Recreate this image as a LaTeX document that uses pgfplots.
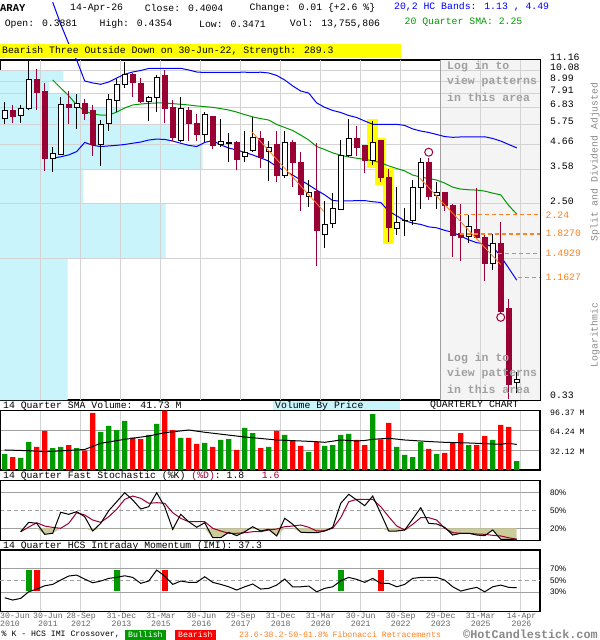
\documentclass[border=0pt]{standalone}
\usepackage{pgfplots}
\pgfplotsset{compat=1.18}
\usepackage{pgfplotstable}
\usepgfplotslibrary{fillbetween}
\usepackage{fontspec}
\setmainfont{Liberation Mono}
\newfontfamily\lsans{Liberation Sans}

\definecolor{vbp}{RGB}{201,244,251}
\definecolor{crim}{RGB}{153,0,51}
\definecolor{gridc}{RGB}{211,211,211}
\definecolor{hgrid}{RGB}{160,160,160}
\definecolor{logbg}{RGB}{244,244,244}
\definecolor{logtxt}{RGB}{160,160,160}
\definecolor{bandb}{RGB}{0,0,255}
\definecolor{smag}{RGB}{0,153,0}
\definecolor{fibo}{RGB}{255,128,32}
\definecolor{volr}{RGB}{255,0,0}
\definecolor{volg}{RGB}{0,153,0}
\definecolor{stfill}{RGB}{204,204,153}
\definecolor{hlyel}{RGB}{255,255,0}
\definecolor{sidetxt}{RGB}{136,136,136}
\definecolor{datetxt}{RGB}{100,100,100}

\newcommand\mf{\fontsize{9.8bp}{11bp}\selectfont}
\newcommand\sm{\fontsize{8.2bp}{10bp}\selectfont}

% quarterly candles: i open high low close
\pgfplotstableread{
i o h l c
0 6.11 7.26 5.76 6.66
2 6.27 7.02 5.83 6.78
3 6.78 11.1 6.66 9.11
6 4.00 4.51 3.50 4.24
7 4.21 7.60 4.17 7.07
9 6.85 7.85 5.47 7.14
12 4.66 6.00 3.72 5.74
13 5.80 7.85 5.37 7.44
14 7.34 9.20 6.50 8.71
15 8.71 10.95 8.36 9.67
18 7.26 7.73 5.96 7.60
19 7.60 9.60 6.54 9.37
22 4.83 7.60 4.75 6.78
25 5.17 6.50 4.75 6.37
27 4.64 6.06 4.55 4.78
30 4.10 5.35 3.89 4.27
31 4.36 6.17 4.28 5.01
33 4.30 4.82 3.18 4.50
35 3.36 5.37 3.27 4.75
38 2.70 3.21 2.43 2.82
40 1.82 2.58 1.58 2.02
41 2.05 2.80 1.95 2.39
42 2.37 4.87 2.35 4.14
43 4.14 6.04 4.10 4.96
46 3.93 5.96 3.75 4.75
49 1.94 2.98 1.81 2.07
51 2.10 3.21 2.00 2.98
52 2.98 4.03 2.37 3.87
54 2.73 3.13 2.37 2.82
58 1.78 2.23 1.67 1.97
61 1.35 1.82 1.25 1.66
64 0.3881 0.4354 0.3471 0.4004
}\upc
\pgfplotstableread{
i o h l c
1 6.66 7.02 5.83 6.21
4 9.11 10.22 6.66 7.98
5 8.06 8.80 3.53 4.00
8 7.07 8.12 5.76 6.82
10 7.14 7.47 6.00 6.43
11 6.66 7.02 4.14 4.66
16 9.67 9.77 7.65 8.86
17 8.80 9.27 7.20 7.26
20 9.50 10.11 5.80 6.78
21 6.85 7.39 4.82 4.99
23 6.66 6.90 4.82 5.76
24 5.76 6.37 4.82 5.18
26 6.25 6.28 4.44 4.60
29 4.75 4.82 3.56 3.99
32 4.96 5.37 3.64 4.04
34 4.63 5.35 3.15 3.38
36 4.75 4.87 3.00 3.85
37 3.87 4.31 2.33 2.75
39 2.86 4.73 1.31 1.89
44 4.96 5.64 4.14 4.50
45 4.58 4.60 3.44 3.93
47 4.83 4.87 3.13 3.29
48 3.30 3.60 1.69 1.95
53 3.85 4.03 2.61 2.70
55 2.82 2.84 2.33 2.45
56 2.47 2.49 1.44 1.80
57 1.83 2.50 1.38 1.77
59 1.91 2.95 1.76 1.77
60 1.77 1.84 1.12 1.35
62 1.66 2.08 0.80 0.813
63 0.837 0.93 0.326 0.381
}\dnc
\pgfplotstableread{
i o h l c
28 4.70 5.22 3.87 4.75
50 2.10 2.41 1.79 2.11
}\djc

% one wick + one body per table row
\newcommand\drawcandles[3]{%
  \pgfplotstablegetrowsof{#1}%
  \pgfmathtruncatemacro\nrows{\pgfplotsretval-1}%
  \pgfplotsforeachungrouped \rr in {0,...,\nrows}{%
    \pgfplotstablegetelem{\rr}{i}\of#1\let\ci\pgfplotsretval
    \pgfplotstablegetelem{\rr}{o}\of#1\let\co\pgfplotsretval
    \pgfplotstablegetelem{\rr}{h}\of#1\let\ch\pgfplotsretval
    \pgfplotstablegetelem{\rr}{l}\of#1\let\cl\pgfplotsretval
    \pgfplotstablegetelem{\rr}{c}\of#1\let\cc\pgfplotsretval
    \pgfmathsetmacro\xa{\ci-0.3}\pgfmathsetmacro\xb{\ci+0.3}%
    \edef\tmp{\noexpand\addplot[#3, line width=1bp] coordinates {(\ci,\cl) (\ci,\ch)};
      \noexpand\addplot[fill=#2, draw=#3, line width=1bp] coordinates {(\xa,\co) (\xb,\co) (\xb,\cc) (\xa,\cc) (\xa,\co)};}%
    \tmp
  }%
}

\pgfplotsset{
  panel/.style={scale only axis, width=540bp, xmin=-0.5875, xmax=66.91,
    axis line style={black, line width=1.3bp},
    xtick={4.5,9.5,...,64.5}, xticklabels={}, major tick length=0pt,
    xmajorgrids, x grid style={gridc, line width=1bp},
    yticklabel pos=right,
    yticklabel style={anchor=west, inner sep=0pt, xshift=10bp},
  },
}

\begin{document}
\begin{tikzpicture}

% ---------- price panel ----------
\begin{axis}[scale only axis, width=540bp, xmin=-0.5875, xmax=66.91,
  at={(0bp,-400bp)}, anchor=south west, height=340bp,
  axis line style={black, line width=1.3bp}, major tick length=0pt,
  ymode=log, ymin=0.3238, ymax=11.22, clip=false,
  xtick=\empty,
  ytick={0.33,2.50,3.58,4.66,5.75,6.83,7.91,8.99,10.08,11.16},
  yticklabels={0.33,2.50,3.58,4.66,5.75,6.83,7.91,8.99,10.08,11.16},
  yticklabel pos=right,
  yticklabel style={anchor=west, inner sep=0pt, xshift=10bp, yshift=3bp, font=\mf},
]
% volume by price
\addplot[fill=vbp, draw=none] coordinates {
(-0.5875,10.08) (7.325,10.08) (7.325,8.99) (5.575,8.99) (5.575,7.91) (9.4125,7.91)
(9.4125,6.83) (14.5,6.83) (14.5,5.75) (20.66,5.75) (20.66,4.66) (24.75,4.66)
(24.75,3.58) (9.825,3.58) (9.825,2.50) (20.125,2.50) (20.125,1.42) (7.875,1.42)
(7.875,0.3238) (-0.5875,0.3238)};
\addplot[fill=logbg, draw=none] coordinates {
(54.5,0.3238) (66.91,0.3238) (66.91,11.22) (54.5,11.22)};
% grid
\pgfplotsinvokeforeach{9.5,14.5,...,64.5}{
  \addplot[gridc, line width=1bp] coordinates {(#1,0.3238) (#1,11.22)};
}
\addplot[gridc, line width=1bp] coordinates {(4.5,0.3238) (4.5,11.22)};
\pgfplotsinvokeforeach{1.42,2.50,3.58,4.66,5.75,6.83,7.91,8.99,10.08}{
  \addplot[gridc, line width=1bp] coordinates {(-0.5875,#1) (66.91,#1)};
}
\addplot[hgrid, line width=1bp] coordinates {(54.5,0.3238) (54.5,11.22)};

% pattern highlight
\addplot[fill=hlyel, draw=none] coordinates {(45.31,3.62) (46.69,3.62) (46.69,6.06) (45.31,6.06)};
\addplot[fill=hlyel, draw=none] coordinates {(46.31,3.05) (47.69,3.05) (47.69,4.99) (46.31,4.99)};
\addplot[fill=hlyel, draw=none] coordinates {(47.33,1.65) (48.67,1.65) (48.67,3.62) (47.33,3.62)};

% bands and SMA
\addplot[bandb, line width=1bp] table {
i p
6 20.5
7 16.3
8 13.3
9 11.2
10 9.02
11 8.83
12 8.71
13 8.92
14 9.30
15 9.67
16 9.90
17 10.06
18 10.27
19 10.29
20 10.29
21 10.29
22 10.29
23 10.11
24 9.90
25 9.85
26 9.87
27 9.87
28 9.87
29 9.87
30 9.88
31 9.85
32 9.88
33 9.80
34 9.55
35 9.11
36 8.56
37 8.12
38 7.95
39 7.17
40 6.85
41 6.63
42 6.49
43 6.29
44 6.16
45 5.94
46 5.74
47 5.74
48 5.74
49 5.74
50 5.67
51 5.47
52 5.35
53 5.27
54 5.16
55 5.05
56 5.01
57 5.03
58 5.03
59 5.03
60 5.04
61 4.95
62 4.82
63 4.65
64 4.49
};
\addplot[bandb, line width=1bp] table {
i p
6 4.03
7 4.09
8 4.17
9 4.32
10 4.75
11 4.61
12 4.55
13 4.58
14 4.61
15 4.65
16 4.71
17 4.77
18 4.87
19 4.92
20 4.90
21 4.82
22 4.71
23 4.61
24 4.55
25 4.75
26 4.85
27 4.63
28 4.48
29 4.39
30 4.28
31 4.17
32 4.04
33 3.91
34 3.69
35 3.53
36 3.38
37 3.21
38 3.05
39 2.89
40 2.75
41 2.59
42 2.58
43 2.58
44 2.59
45 2.59
46 2.56
47 2.54
48 2.32
49 2.21
50 2.10
51 2.05
52 2.02
53 1.97
54 1.95
55 1.90
56 1.86
57 1.79
58 1.72
59 1.67
60 1.65
61 1.60
62 1.45
63 1.28
64 1.13
};
\addplot[smag, line width=1bp] table {
i p
6 9.11
7 8.38
8 7.74
9 7.02
10 6.59
11 6.39
12 6.32
13 6.32
14 6.52
15 6.80
16 7.02
17 7.09
18 7.14
19 7.17
20 7.17
21 7.12
22 7.07
23 7.02
24 6.95
25 6.90
26 6.85
27 6.76
28 6.66
29 6.52
30 6.35
31 6.20
32 6.09
33 6.00
34 5.73
35 5.55
36 5.38
37 5.13
38 4.87
39 4.55
40 4.41
41 4.26
42 4.16
43 4.08
44 4.03
45 3.98
46 3.93
47 3.84
48 3.72
49 3.62
50 3.53
51 3.38
52 3.31
53 3.26
54 3.21
55 3.11
56 2.98
57 2.92
58 2.90
59 2.89
60 2.86
61 2.80
62 2.75
63 2.46
64 2.25
};

% candles
\drawcandles{\dnc}{crim}{crim}
\drawcandles{\upc}{white}{black}
\drawcandles{\djc}{black}{black}

% trend lines and Fibonacci levels
\addplot[fibo, line width=0.8bp] coordinates {(30.875,5.31) (39.9,2.31)};
\addplot[fibo, line width=0.8bp] coordinates {(51.9,3.27) (62,1.33)};
\addplot[fibo, line width=1.2bp, dash pattern=on 4bp off 3bp] coordinates {(56.5,2.24) (66.91,2.24)};
\addplot[fibo, line width=1.2bp, dash pattern=on 4bp off 3bp] coordinates {(56.9,1.827) (66.91,1.827)};
\addplot[fibo, line width=1.2bp, dash pattern=on 4bp off 3bp] coordinates {(61.7,1.4929) (66.91,1.4929)};
\addplot[fibo, line width=1.2bp, dash pattern=on 4bp off 3bp] coordinates {(64.2,1.1627) (66.91,1.1627)};

\addplot[only marks, mark=o, mark size=4bp, crim, line width=1bp] coordinates {(53,4.29) (62,0.767)};
\end{axis}

% ---------- volume panel ----------
\begin{axis}[panel, at={(0bp,-470bp)}, anchor=south west, height=59.3bp,
  ymin=0, ymax=96.8,
  ytick={32.12,64.24}, yticklabels={32.12 M,64.24 M},
  ymajorgrids, y grid style={hgrid, line width=1bp},
  extra y ticks={96.37}, extra y tick labels={96.37 M},
  extra y tick style={grid=none},
  yticklabel style={font=\sm, yshift=-1.5bp},
]
\addplot[ybar, bar width=5.3bp, bar shift=0pt, fill=volg, draw=none] table {
i v
0 26.1
2 19.6
3 45.7
6 35.9
7 37.6
9 35.9
12 62.1
13 71.9
14 65.3
15 80.0
18 57.2
19 75.1
22 52.3
25 44.1
27 49.0
28 50.6
30 68.6
31 60.4
33 37.6
35 57.2
38 29.4
40 39.2
41 40.8
42 57.2
43 58.8
46 91.4
49 37.6
50 24.5
51 21.2
52 45.7
54 26.1
58 40.8
61 49.0
64 14.7
};
\addplot[ybar, bar width=5.3bp, bar shift=0pt, fill=volr, draw=none] table {
i v
1 21.2
4 37.6
5 63.7
8 40.8
10 31.5
11 93.1
16 52.8
17 50.6
20 96.8
21 65.3
23 52.3
24 42.5
26 37.6
29 32.7
32 35.9
34 63.7
36 47.4
37 39.2
39 45.7
44 49.0
45 40.8
47 50.1
48 76.8
53 34.3
55 27.8
56 44.1
57 60.4
59 40.8
60 55.5
62 73.5
63 70.2
};
\addplot[black, line width=1bp] table {
i v
0 32.7
3 31.5
5 29.9
9 32.7
10 33.5
12 43.6
15 50.1
18 55.5
20 60.9
23 65.3
25 61.6
30 53.9
34 49.0
37 47.4
39 46.2
40 45.2
42 49.0
44 47.4
45 48.2
46 50.1
48 51.8
50 49.0
53 46.5
55 45.2
58 44.1
61 42.5
62 42.0
63 43.6
64 41.73
};
\end{axis}

% ---------- stochastic panel ----------
\pgfplotstableread{
i k d
2 14.3 14.3
3 30 22
4 28.3 29.3
5 10 23.8
6 11.7 21.5
7 46.7 20
8 43.3 28.3
9 47.7 46
10 39.3 42.2
11 15.5 33.8
12 28.3 30
13 49.3 39.3
14 64.3 51.7
15 79.3 68.3
16 67.2 73.8
17 52.2 70
18 56 61.7
19 79.3 62.7
20 56 61.7
21 18.3 46
22 43.3 36.7
23 31 31
24 21.7 31
25 29.3 31
26 4.3 20
27 4.3 15.5
28 13.3 11.7
29 7.7 11.7
30 14.3 12.7
31 22.7 14.3
32 15.5 14.3
33 18.3 17.2
34 7.2 18.8
35 36.7 22.7
36 26.7 23.8
37 13.5 25.5
38 12.7 21.7
39 12.7 15.5
40 15.5 16
41 21.7 20
42 61.7 37.7
43 76.7 64.3
44 67.2 68.3
45 57.7 68.3
46 73.8 68.3
47 45 56
48 15.5 39.3
49 15.5 23.8
50 17.2 17.2
51 35.5 26.7
52 54.3 37.7
53 28.3 37.7
54 27.2 33.8
55 21.7 20
56 8.8 12.7
57 11.7 11.7
58 11.7 11.7
59 8.8 10.5
60 7.7 10
61 17.2 8.3
62 1.7 7.2
63 1.7 4.3
64 1.8 1.6
}\stoch
\begin{axis}[panel, at={(0bp,-540.3bp)}, anchor=south west, height=60bp,
  ymin=0, ymax=100,
  ytick={20,80}, yticklabels={20\%,80\%},
  ymajorgrids, y grid style={hgrid, line width=1bp},
  extra y ticks={50}, extra y tick labels={50\%},
  extra y tick style={grid style={hgrid, line width=1bp, dash pattern=on 4bp off 3bp}},
  yticklabel style={font=\lsans\fontsize{8bp}{9bp}\selectfont},
]
\addplot[name path=kc, draw=none, forget plot] table[x=i, y expr={min(\thisrow{k},20)}] \stoch;
\addplot[name path=twenty, draw=none, forget plot] coordinates {(2,20) (64,20)};
\addplot[stfill, forget plot] fill between[of=kc and twenty];
\addplot[crim, line width=1bp] table[x=i, y=d] \stoch;
\addplot[black, line width=1bp] table[x=i, y=k] \stoch;
\end{axis}

% ---------- IMI panel ----------
\begin{axis}[panel, at={(0bp,-611.3bp)}, anchor=south west, height=61.3bp,
  ymin=-3.1, ymax=102.1,
  ytick={30,70}, yticklabels={30\%,70\%},
  ymajorgrids, y grid style={hgrid, line width=1bp},
  extra y ticks={50}, extra y tick labels={50\%},
  extra y tick style={grid style={hgrid, line width=1bp, dash pattern=on 4bp off 3bp}},
  yticklabel style={font=\lsans\fontsize{8bp}{9bp}\selectfont},
]
\addplot[volg, line width=6bp] coordinates {(3,32) (3,68)};
\addplot[volr, line width=6bp] coordinates {(4,32) (4,68)};
\addplot[volg, line width=6bp] coordinates {(14,32) (14,68)};
\addplot[volr, line width=6bp] coordinates {(20,32) (20,68)};
\addplot[volg, line width=6bp] coordinates {(42,32) (42,68)};
\addplot[volr, line width=6bp] coordinates {(47,32) (47,68)};
\addplot[black, line width=1bp] table {
i v
0 20.2
1 16.2
2 19.1
3 30.4
4 35.1
5 40.7
6 43.1
7 50.5
8 57.4
9 59.1
10 52.2
11 45.9
12 48.8
13 53.4
14 55.1
15 57.9
16 55.1
17 44.9
18 48.8
19 67.7
20 57.4
21 43.1
22 48.8
23 46.6
24 46.6
25 56.2
26 46.6
27 43.1
28 39
29 33.4
30 39
31 43.7
32 35.1
33 36.3
34 41.9
35 52.2
36 39
37 39
38 40.2
39 30.4
40 36.3
41 39
42 49.3
43 55.1
44 51.7
45 46.6
46 53.4
47 44.9
48 44.9
49 39
50 43.1
51 53.4
52 55.1
53 55.1
54 55.1
55 50.5
56 39
57 31.6
58 35.1
59 38
60 30.4
61 39
62 41.9
63 38
64 37.3
};
\end{axis}

% date labels under the bottom panel
\begin{axis}[scale only axis, width=540bp, height=1bp, at={(0bp,-611.3bp)}, anchor=south west,
  xmin=-0.5875, xmax=66.91, ymin=0, ymax=1, hide y axis, axis x line*=bottom,
  x axis line style={draw=none}, major tick length=0pt,
  xtick={5.41,9.54,14.6,19.54,24.6,29.5,34.5,39.5,44.5,49.5,54.5,59.5,64.6},
  xticklabels={{30-Jun\\2011},{28-Sep\\2012},{31-Dec\\2013},{31-Mar\\2015},{30-Jun\\2016},{29-Sep\\2017},{31-Dec\\2018},{31-Mar\\2020},{30-Jun\\2021},{30-Sep\\2022},{29-Dec\\2023},{31-Mar\\2025},{14-Apr\\2026}},
  xticklabel style={anchor=north, inner sep=0pt, yshift=-1.2bp, align=center, text=datetxt, font=\fontsize{8.2bp}{8bp}\selectfont},
  extra x ticks={-0.5875}, extra x tick labels={{30-Jun\\2010}},
  extra x tick style={xticklabel style={anchor=north west, align=left}},
]
\end{axis}

% ---------- header ----------
\begin{scope}[every node/.style={anchor=west, inner sep=0pt, font=\mf}]
\node[font=\fontsize{10.5bp}{12bp}\selectfont\bfseries] at (0bp,-8bp) {ARAY};
\node at (70bp,-8bp) {14-Apr-26};
\node at (144.7bp,-8bp) {Close: 0.4004};
\node at (249.5bp,-8bp) {Change: 0.01 \{+2.6 \%\}};
\node[text=bandb] at (394bp,-7bp) {20,2 HC Bands: 1.13 , 4.49};
\node at (4.6bp,-24bp) {Open: 0.3881};
\node at (99.5bp,-24bp) {High: 0.4354};
\node at (199bp,-24bp) {Low: 0.3471};
\node at (289.7bp,-24bp) {Vol: 13,755,806};
\node[text=smag] at (404.5bp,-22bp) {20 Quarter SMA: 2.25};
\fill[hlyel] (0bp,-44bp) rectangle (400.7bp,-57.5bp);
\node at (2bp,-50.7bp) {Bearish Three Outside Down on 30-Jun-22, Strength: 289.3};

% pattern login notes
\node[text=logtxt, font=\fontsize{11.5bp}{13bp}\selectfont\bfseries] at (447bp,-67bp) {Log in to};
\node[text=logtxt, font=\fontsize{11.5bp}{13bp}\selectfont\bfseries] at (447bp,-82bp) {view patterns};
\node[text=logtxt, font=\fontsize{11.5bp}{13bp}\selectfont\bfseries] at (447bp,-97bp) {in this area};
\node[text=logtxt, font=\fontsize{11.5bp}{13bp}\selectfont\bfseries] at (447bp,-359bp) {Log in to};
\node[text=logtxt, font=\fontsize{11.5bp}{13bp}\selectfont\bfseries] at (447bp,-374bp) {view patterns};
\node[text=logtxt, font=\fontsize{11.5bp}{13bp}\selectfont\bfseries] at (447bp,-389bp) {in this area};

% Fibonacci level labels
\node[text=fibo] at (545.5bp,-215bp) {2.24};
\node[text=fibo] at (545.5bp,-233.5bp) {1.8270};
\node[text=fibo] at (545.5bp,-253bp) {1.4929};
\node[text=fibo] at (545.5bp,-277bp) {1.1627};

% panel titles
\node at (3bp,-405.5bp) {14 Quarter SMA Volume: 41.73 M};
\fill[vbp] (273bp,-400.8bp) rectangle (400bp,-410bp);
\node at (275bp,-405.5bp) {Volume By Price};
\node at (430bp,-405.5bp) {QUARTERLY CHART};
\node at (3bp,-475.5bp) {14 Quarter Fast Stochastic (\%K) \textcolor{crim}{(\%D)}: 1.8\ \ \ \textcolor{crim}{1.6}};
\node at (3bp,-545.5bp) {14 Quarter HCS Intraday Momentum (IMI): 37.3};

% bottom legend
\node[font=\sm] at (1.5bp,-634.7bp) {\% K - HCS IMI Crossover,};
\node[font=\sm, fill=volg, text=white, inner xsep=3bp, inner ysep=2bp] at (125bp,-634.7bp) {Bullish};
\node[font=\sm, fill=volr, text=white, inner xsep=3bp, inner ysep=2bp] at (175bp,-634.7bp) {Bearish};
\node[font=\sm, text=fibo] at (239bp,-634.7bp) {23.6-38.2-50-61.8\% Fibonacci Retracements};
\node[font=\fontsize{11.8bp}{13bp}\selectfont\bfseries, text=sidetxt] at (463bp,-634.5bp) {\char"00A9HotCandlestick.com};
\end{scope}

% side captions
\node[rotate=90, font=\mf, text=sidetxt, inner sep=0pt] at (595bp,-162bp) {Split and Dividend Adjusted};
\node[rotate=90, font=\mf, text=sidetxt, inner sep=0pt] at (595bp,-335bp) {Logarithmic};

\pgfresetboundingbox
\path[use as bounding box] (0,0) rectangle (600bp,-640bp);
\end{tikzpicture}
\end{document}
